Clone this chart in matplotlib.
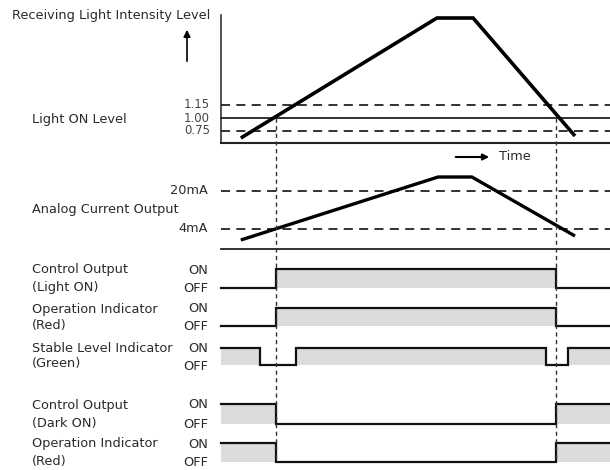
import matplotlib
matplotlib.use("Agg")
import matplotlib.pyplot as plt
import numpy as np

# ---------------- data ----------------
# time axis in arbitrary units (0 = left axis, 100 = right edge)
int_times = [5.1, 55.5, 64.8, 91.0]          # receiving light intensity profile
int_values = [5, 125, 125, 7]                # display height above baseline
thr_labels = ["0.75", "1.00", "1.15"]
thr_values = [12, 25, 38]                    # display height of threshold lines
thr_styles = ["--", "-", "--"]

ana_times = [5.1, 55.8, 64.5, 91.0]          # analog current output profile
ana_values = [9, 72, 72, 13]
ana_labels = ["4mA", "20mA"]
ana_levels = [20, 58]

switch_light = [14.1, 86.1]                  # light ON crossing times
switch_stable = [10.0, 19.3, 83.5, 89.2]     # stable level transitions

row_names = [("Control Output", "(Light ON)"),
             ("Operation Indicator", "(Red)"),
             ("Stable Level Indicator", "(Green)"),
             ("Control Output", "(Dark ON)"),
             ("Operation Indicator", "(Red)")]
row_switches = [switch_light, switch_light, switch_stable, switch_light, switch_light]
row_initial = [0, 0, 1, 1, 1]

# ---------------- layout ----------------
W, H = 610, 470
X0, PXU = 221, 3.89          # pixel of t=0, pixels per time unit
def P(x):
    return (x - X0) / PXU

T_END = 100
row_on_y = [269, 308, 348, 404, 443]
row_off_y = [288, 326, 365, 424, 462]

TOP_BASE = 143
ANA_BASE = 249

FONT = ["DejaVu Sans"]
TXT = "#2a2a2a"
FS = 9.3
FILL = "#dcdcdc"

fig = plt.figure(figsize=(W / 100, H / 100), dpi=100)
ax = fig.add_axes([0, 0, 1, 1])
ax.set_xlim(P(0), P(W))
ax.set_ylim(H, 0)
ax.axis("off")

# ---------------- top panel: intensity ----------------
ax.plot([0, 0], [15, TOP_BASE], color="#333333", lw=1.2)
ax.plot([0, T_END], [TOP_BASE, TOP_BASE], color="#222222", lw=1.5)
for lab, v, ls in zip(thr_labels, thr_values, thr_styles):
    y = TOP_BASE - v
    ax.plot([0, T_END], [y, y], color="#222222", lw=1.3, ls=ls,
            dashes=(5, 3.5) if ls == "--" else (None, None))
    ax.text(P(210), y, lab, ha="right", va="center", fontsize=8.5,
            color="#444444", family=FONT)
ax.plot(int_times, [TOP_BASE - v for v in int_values], color="black", lw=2.6,
        solid_capstyle="butt", solid_joinstyle="miter")

ax.text(P(12), 15, "Receiving Light Intensity Level", ha="left", va="center",
        fontsize=9.3, color=TXT, family=FONT)
ax.annotate("", xy=(P(187), 27), xytext=(P(187), 64),
            arrowprops=dict(arrowstyle="-|>", color="black", lw=1.2,
                            mutation_scale=10))
ax.text(P(32), 120, "Light ON Level", ha="left", va="center",
        fontsize=FS, color=TXT, family=FONT)

# Time arrow
ax.annotate("", xy=(P(492), 157), xytext=(P(453), 157),
            arrowprops=dict(arrowstyle="-|>", color="black", lw=1.5,
                            mutation_scale=9))
ax.text(P(499), 157, "Time", ha="left", va="center", fontsize=FS,
        color=TXT, family=FONT)

# ---------------- analog panel ----------------
ax.plot([0, T_END], [ANA_BASE, ANA_BASE], color="#222222", lw=1.3)
for lab, v in zip(ana_labels, ana_levels):
    y = ANA_BASE - v
    ax.plot([0, T_END], [y, y], color="#222222", lw=1.3, ls="--",
            dashes=(5, 3.5))
    ax.text(P(208), y, lab, ha="right", va="center", fontsize=FS,
            color=TXT, family=FONT)
ax.plot(ana_times, [ANA_BASE - v for v in ana_values], color="black", lw=2.4,
        solid_capstyle="butt", solid_joinstyle="miter")
ax.text(P(32), 210, "Analog Current Output", ha="left", va="center",
        fontsize=FS, color=TXT, family=FONT)

# ---------------- digital rows ----------------
for (n1, n2), sw, init, yon, yoff in zip(row_names, row_switches, row_initial,
                                          row_on_y, row_off_y):
    edges = [0] + list(sw) + [T_END]
    states = [(init + i) % 2 for i in range(len(edges) - 1)]
    xs, ys = [], []
    for i, s in enumerate(states):
        y = yon if s else yoff
        xs += [edges[i], edges[i + 1]]
        ys += [y, y]
        if s:
            ax.fill_between([edges[i], edges[i + 1]], yon, yoff,
                            color=FILL, lw=0)
    ax.plot(xs, ys, color="#111111", lw=1.6, solid_joinstyle="miter")
    ax.text(P(32), yon + 1, n1, ha="left", va="center", fontsize=FS,
            color=TXT, family=FONT)
    ax.text(P(32), yoff - 1, n2, ha="left", va="center", fontsize=FS,
            color=TXT, family=FONT)
    ax.text(P(208), yon + 1, "ON", ha="right", va="center", fontsize=FS,
            color=TXT, family=FONT)
    ax.text(P(208), yoff + 1, "OFF", ha="right", va="center", fontsize=FS,
            color=TXT, family=FONT)

# ---------------- vertical dashed markers ----------------
for t in switch_light:
    ax.plot([t, t], [TOP_BASE - thr_values[1], row_off_y[-1]],
            color="#333333", lw=1.0, ls="--", dashes=(3, 2.5))

fig.savefig("out.png", dpi=100)
